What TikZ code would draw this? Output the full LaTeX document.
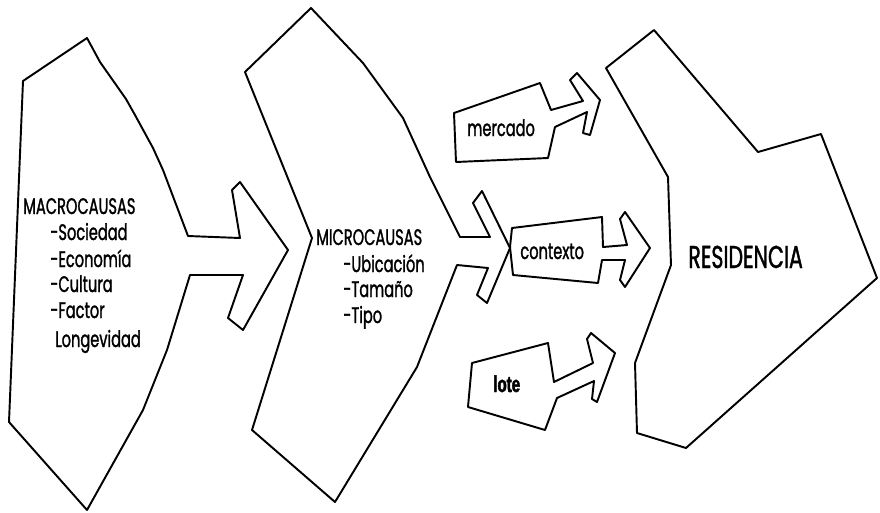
\documentclass[tikz,border=0pt]{standalone}
\usepackage{fontspec}
\newfontfamily\gothic{Poppins}[FakeStretch=0.65,FakeBold=1.2]
\newfontfamily\lotefont{Liberation Sans}[FakeStretch=0.66,FakeBold=2]
\begin{document}
\begin{tikzpicture}[x=0.02cm,y=-0.02cm,
  outline/.style={draw=black,line width=1.1pt,line join=round},
  label/.style={inner sep=0pt,anchor=base west,font=\gothic\fontsize{12.8pt}{15pt}\selectfont},
  biglabel/.style={inner sep=0pt,anchor=base west,font=\gothic\fontsize{18pt}{21pt}\selectfont},
  lotelabel/.style={inner sep=0pt,anchor=base west,font=\lotefont\bfseries\fontsize{13pt}{15pt}\selectfont}]
\useasboundingbox[fill=white] (0,0) rectangle (880,512);

% macro-causes block with its arrow
\draw[outline] (23,81) -- (87,38) -- (100,62) -- (126,99) -- (135,115) -- (153,148)
  -- (163,170) -- (188,236) -- (240,238) -- (232,190) -- (240,182) -- (288,250)
  -- (243,330) -- (228,318) -- (243,275) -- (190,275) -- (167,350) -- (143,410)
  -- (87,510) -- (9,422) -- cycle;

% micro-causes block with its arrow
\draw[outline] (311,8) -- (363,63) -- (403,118) -- (430,177) -- (460,237) -- (490,237)
  -- (473,203) -- (482,191) -- (510,248) -- (487,303) -- (477,295) -- (488,268)
  -- (457,265) -- (417,367) -- (335,502) -- (252,430) -- (312,238) -- (245,72) -- cycle;

% mercado
\draw[outline] (454,113) -- (540,83) -- (551,110) -- (583,101) -- (570,80) -- (577,73)
  -- (600,100) -- (590,135) -- (583,133) -- (587,112) -- (555,127) -- (548,158)
  -- (456,162) -- cycle;

% contexto
\draw[outline] (512,228) -- (602,217) -- (603,247) -- (627,245) -- (620,219) -- (625,212)
  -- (650,248) -- (625,287) -- (620,280) -- (625,260) -- (602,260) -- (598,283)
  -- (513,275) -- (510,247) -- cycle;

% lote
\draw[outline] (472,363) -- (548,343) -- (554,382) -- (593,363) -- (587,339) -- (591,333)
  -- (615,353) -- (597,402) -- (592,399) -- (594,381) -- (557,398) -- (545,430)
  -- (468,407) -- cycle;

% residencia
\draw[outline] (606,68) -- (654,30) -- (758,152) -- (821,134) -- (877,278) -- (686,448)
  -- (637,433) -- (635,363) -- (671,265) -- (668,177) -- cycle;

% texts
\node[label] (macro) at (23,214) {MACROCAUSAS};
\node[label] (soc) at (50,240) {-Sociedad};
\node[label] (eco) at (50,267) {-Economía};
\node[label] (cul) at (50,292) {-Cultura};
\node[label] (fac) at (50,318) {-Factor};
\node[label] (lon) at (55,347) {Longevidad};

\node[label] (micro) at (316,245) {MICROCAUSAS};
\node[label] (ubi) at (343,272) {-Ubicación};
\node[label] (tam) at (343,297) {-Tamaño};
\node[label] (tip) at (343,323) {-Tipo};

\node[label] (mer) at (467,136) {mercado};
\node[label] (con) at (520,259) {contexto};
\node[lotelabel] (lot) at (493,392) {lote};
\node[biglabel] (res) at (688,268) {RESIDENCIA};
\end{tikzpicture}
\end{document}
